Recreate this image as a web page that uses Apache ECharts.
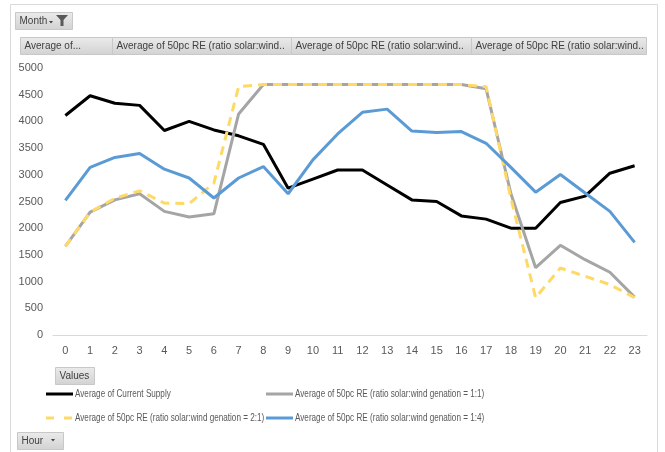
<!DOCTYPE html>
<html>
<head>
<meta charset="utf-8">
<script src="https://cdn.jsdelivr.net/npm/echarts@6/dist/echarts.min.js"></script>
<style>
  html, body { margin: 0; padding: 0; background: #fff; }
  #main { width: 665px; height: 452px; }
</style>
</head>
<body>
<div id="main"></div>
<script>
// hours on the x axis
var hours = ['0','1','2','3','4','5','6','7','8','9','10','11','12','13','14','15','16','17','18','19','20','21','22','23'];
// Average of Current Supply
var currentSupply = [4110, 4480, 4340, 4300, 3830, 4000, 3840, 3730, 3570, 2750, 2920, 3090, 3090, 2810, 2530, 2500, 2230, 2170, 2000, 2000, 2480, 2600, 3030, 3170];
// 50pc RE, solar:wind = 1:1
var re11 = [1660, 2300, 2530, 2645, 2315, 2210, 2270, 4140, 4690, 4690, 4690, 4690, 4690, 4690, 4690, 4690, 4690, 4610, 2650, 1260, 1680, 1410, 1175, 710];
// 50pc RE, solar:wind = 2:1
var re21 = [1660, 2300, 2560, 2700, 2470, 2460, 2845, 4650, 4690, 4690, 4690, 4690, 4690, 4690, 4690, 4690, 4690, 4650, 2560, 700, 1255, 1100, 945, 700];
// 50pc RE, solar:wind = 1:4
var re14 = [2520, 3140, 3325, 3400, 3105, 2940, 2565, 2940, 3155, 2645, 3280, 3765, 4170, 4230, 3820, 3790, 3810, 3590, 3140, 2675, 3005, 2660, 2315, 1735];
var yTicks = [0, 500, 1000, 1500, 2000, 2500, 3000, 3500, 4000, 4500, 5000];

var names = [
  'Average of Current Supply',
  'Average of 50pc RE (ratio solar:wind genation = 1:1)',
  'Average of 50pc RE (ratio solar:wind genation = 2:1)',
  'Average of 50pc RE (ratio solar:wind genation = 1:4)'
];
var colors = ['#000000', '#a5a5a5', '#ffd966', '#5b9bd5'];

var font = '"Liberation Sans", Arial, sans-serif';

// pivot-chart style field buttons
function button(x, y, w, h, label) {
  return {
    type: 'group', left: x, top: y,
    children: [
      { type: 'rect', shape: { x: 0, y: 0, width: w, height: h },
        style: { fill: new echarts.graphic.LinearGradient(0, 0, 0, 1, [
          { offset: 0, color: '#ebebeb' }, { offset: 1, color: '#d2d2d2' }]),
          stroke: '#c8c8c8', lineWidth: 1 } },
      { type: 'text', x: 4, y: h / 2,
        style: { text: label, fill: '#404040', font: '10px ' + font, verticalAlign: 'middle' } }
    ]
  };
}

// legend entry drawn Excel-style (line sample + narrow text)
function legendItem(x, y, i) {
  var dashed = i === 2;
  return {
    type: 'group', x: x, y: y,
    children: [
      { type: 'line', shape: { x1: 0, y1: 0, x2: 27, y2: 0 },
        style: { stroke: colors[i], lineWidth: 3, lineDash: dashed ? [8, 10] : null } },
      { type: 'text', x: 29, y: 0, scaleX: 0.74,
        style: { text: names[i], fill: '#595959', font: '11px ' + font, verticalAlign: 'middle' } }
    ]
  };
}

var myChart = echarts.init(document.getElementById('main'));
var option = {
  animation: false,
  backgroundColor: '#fff',
  textStyle: { fontFamily: font },
  graphic: [
    { type: 'rect', shape: { x: 10.5, y: 4.5, width: 647, height: 460 },
      style: { fill: 'none', stroke: '#d9d9d9', lineWidth: 1 }, z: -1 },
    button(15, 12, 57, 17, 'Month'),
    { type: 'polygon', shape: { points: [[49, 21], [53, 21], [51, 23.5]] }, style: { fill: '#404040' } },
    { type: 'polygon', shape: { points: [[56, 15], [68, 15], [63.5, 20], [63.5, 26], [60.5, 26], [60.5, 20]] },
      style: { fill: '#595959' } },
    button(20, 37, 92, 17, 'Average of...'),
    button(112, 37, 179, 17, 'Average of 50pc RE (ratio solar:wind..'),
    button(291, 37, 180, 17, 'Average of 50pc RE (ratio solar:wind..'),
    button(471, 37, 175, 17, 'Average of 50pc RE (ratio solar:wind..'),
    button(55, 367, 39, 17, 'Values'),
    button(17, 432, 46, 17, 'Hour'),
    { type: 'polygon', shape: { points: [[51, 439], [55, 439], [53, 441.5]] }, style: { fill: '#404040' } },
    legendItem(46, 394, 0),
    legendItem(266, 394, 1),
    legendItem(46, 418, 2),
    legendItem(266, 418, 3)
  ],
  grid: { left: 53, right: 18, top: 68, bottom: 117 },
  xAxis: {
    type: 'category',
    data: hours,
    boundaryGap: true,
    axisLine: { lineStyle: { color: '#d9d9d9', width: 1 } },
    axisTick: { show: false },
    axisLabel: { color: '#595959', fontSize: 11, margin: 10 }
  },
  yAxis: {
    type: 'value',
    min: yTicks[0], max: yTicks[yTicks.length - 1], interval: 500,
    splitLine: { show: false },
    axisLine: { show: false },
    axisTick: { show: false },
    axisLabel: { color: '#595959', fontSize: 11, margin: 10, formatter: function (v) { return String(v); } }
  },
  series: [
    { name: names[0], type: 'line', data: currentSupply, symbol: 'none',
      lineStyle: { color: colors[0], width: 3 } },
    { name: names[1], type: 'line', data: re11, symbol: 'none',
      lineStyle: { color: colors[1], width: 3 } },
    { name: names[2], type: 'line', data: re21, symbol: 'none',
      lineStyle: { color: colors[2], width: 3, type: [9, 6] } },
    { name: names[3], type: 'line', data: re14, symbol: 'none',
      lineStyle: { color: colors[3], width: 3 } }
  ]
};
myChart.setOption(option);
</script>
</body>
</html>
